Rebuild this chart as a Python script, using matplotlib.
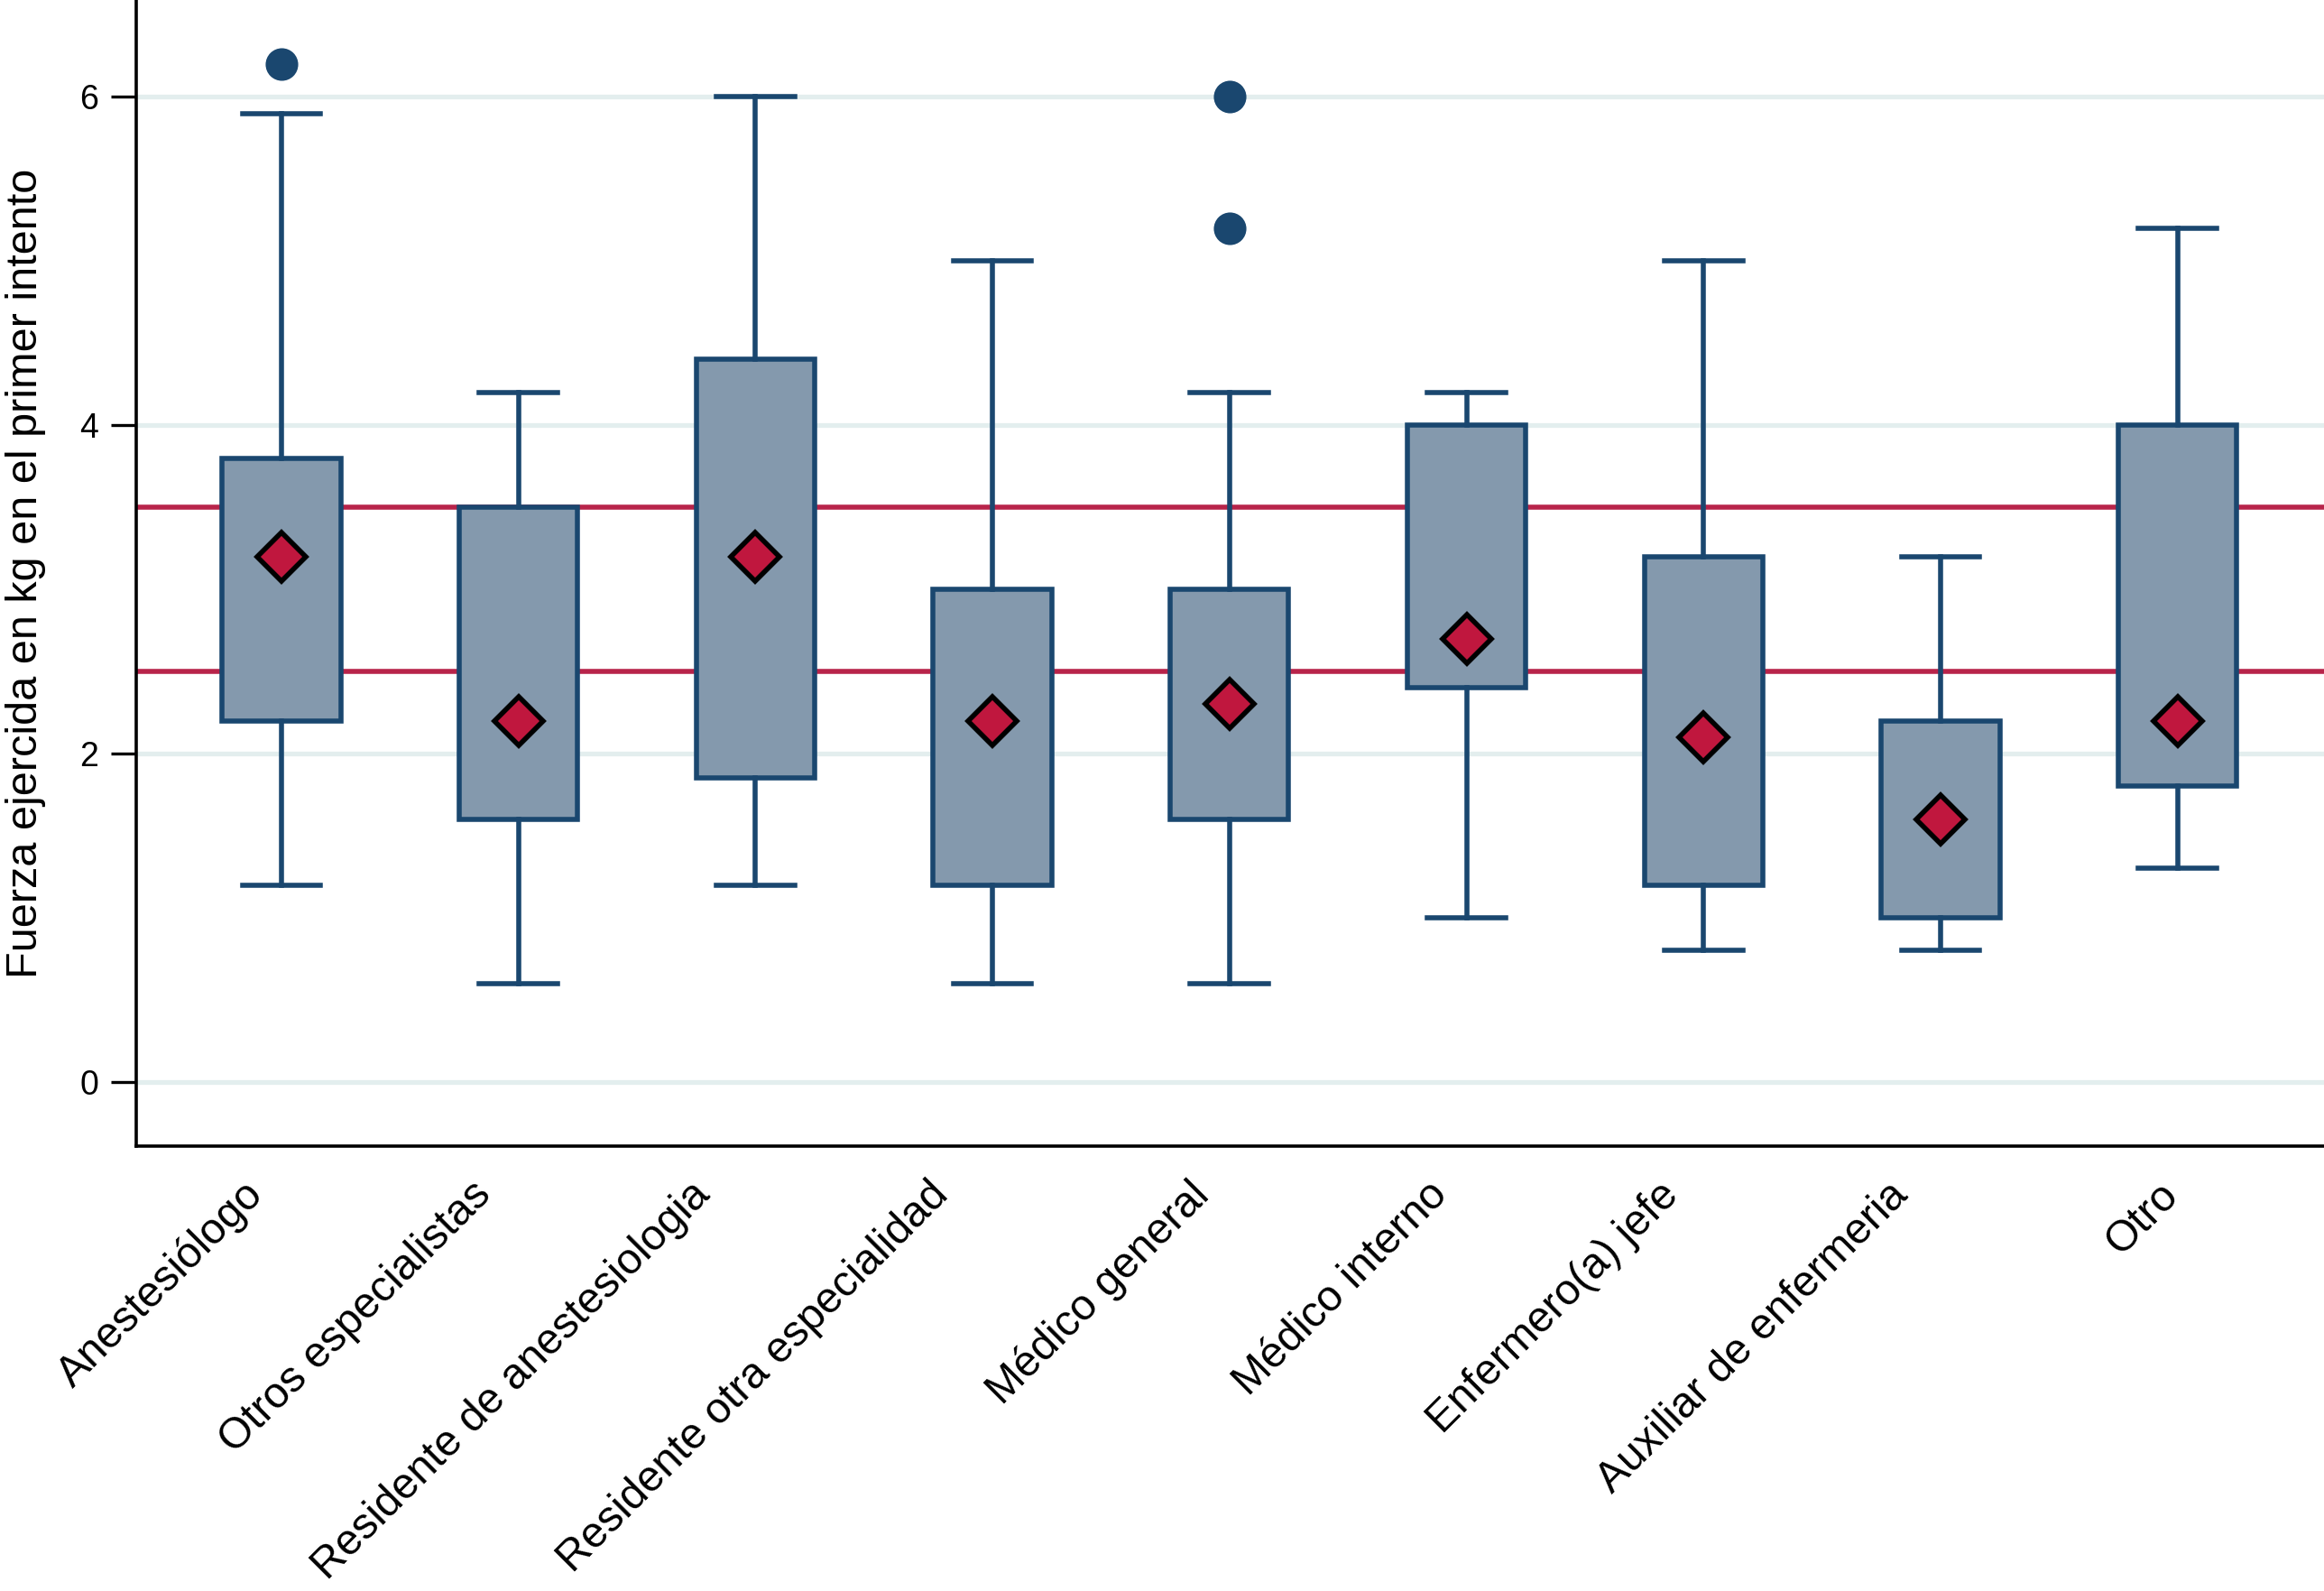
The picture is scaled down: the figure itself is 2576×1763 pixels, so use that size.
import matplotlib
matplotlib.use("Agg")
import matplotlib.pyplot as plt
from matplotlib.transforms import ScaledTranslation

plt.rcParams['font.family'] = ['Liberation Sans', 'DejaVu Sans']

categorias = ["Anestesiólogo", "Otros especialistas", "Residente de anestesiologia",
              "Residente otra especialidad", "Médico general", "Médico interno",
              "Enfermero(a) jefe", "Auxiliar de enfermeria", "Otro"]
q1 = [2.2, 1.6, 1.85, 1.2, 1.6, 2.4, 1.2, 1.0, 1.8]
q3 = [3.8, 3.5, 4.4, 3.0, 3.0, 4.0, 3.2, 2.2, 4.0]
whis_lo = [1.2, 0.6, 1.2, 0.6, 0.6, 1.0, 0.8, 0.8, 1.3]
whis_hi = [5.9, 4.2, 6.0, 5.0, 4.2, 4.2, 5.0, 3.2, 5.2]
diamantes = [3.2, 2.2, 3.2, 2.2, 2.3, 2.7, 2.1, 1.6, 2.2]
atipicos = [[6.2], [], [], [], [6.0, 5.2], [], [], [], []]
lineas_ref = [2.5, 3.5]

navy = '#1a476f'
fill = '#8499ad'
rojo = '#c0173e'

stats = []
for i in range(len(categorias)):
    stats.append({'q1': q1[i], 'q3': q3[i], 'med': q1[i], 'mean': diamantes[i],
                  'whislo': whis_lo[i], 'whishi': whis_hi[i], 'fliers': atipicos[i]})

fig = plt.figure(figsize=(25.76, 17.63), dpi=100)
ax = fig.add_axes([0.0586, 0.2797, 0.9414, 0.7203])

pos = list(range(1, len(categorias) + 1))
ax.bxp(stats, positions=pos, widths=0.5, capwidths=0.33, patch_artist=True,
       showmeans=True, showfliers=True,
       boxprops=dict(facecolor=fill, edgecolor=navy, linewidth=4),
       whiskerprops=dict(color=navy, linewidth=4),
       capprops=dict(color=navy, linewidth=4),
       medianprops=dict(linewidth=0),
       meanprops=dict(marker='D', markerfacecolor=rojo, markeredgecolor='black',
                      markersize=28, markeredgewidth=4),
       flierprops=dict(marker='o', markerfacecolor=navy, markeredgecolor=navy,
                       markersize=26, markeredgewidth=0),
       zorder=3)

for y in lineas_ref:
    ax.axhline(y, color='#b8244a', linewidth=4, zorder=2)

ax.set_xlim(0.387, 9.618)
ax.set_ylim(-0.39, 6.59)
ax.set_yticks([0, 2, 4, 6])
ax.yaxis.grid(True, color='#e3eeee', linewidth=3.8, zorder=0)
ax.set_axisbelow(True)

# category labels, drawn by hand so the longer ones sit a bit further left (as in the original)
ax.set_xticks(pos)
ax.set_xticklabels([])
ax.tick_params(axis='x', length=0)
renderer = fig.canvas.get_renderer()
for p, lab in zip(pos, categorias):
    tmp = fig.text(0, 0, lab, fontsize=34.5)
    w = tmp.get_window_extent(renderer).width  # pixels
    tmp.remove()
    dx = (3 - 0.1 * w) / fig.dpi
    off = ScaledTranslation(dx, -34 / 72, fig.dpi_scale_trans)
    ax.text(p, 0, lab, transform=ax.get_xaxis_transform() + off, fontsize=34.5,
            rotation=45, ha='right', va='center', rotation_mode='anchor', clip_on=False)

ax.tick_params(axis='y', length=20, width=2.4, labelsize=27, pad=10)
ax.set_ylabel("Fuerza ejercida en kg en el primer intento", fontsize=35, labelpad=27)

for s in ['top', 'right']:
    ax.spines[s].set_visible(False)
for s in ['left', 'bottom']:
    ax.spines[s].set_linewidth(2.6)

fig.savefig("out.png", dpi=100)
